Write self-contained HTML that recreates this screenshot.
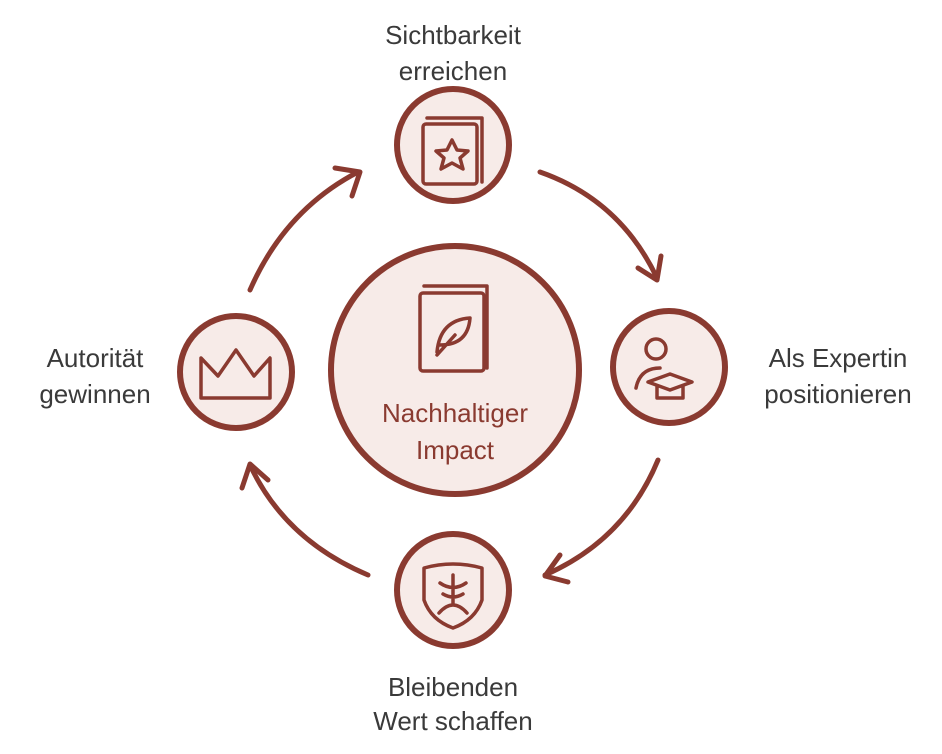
<!DOCTYPE html>
<html><head><meta charset="utf-8"><style>
body{margin:0;background:#fff;}
svg{display:block;}
text{font-family:"Liberation Sans",sans-serif;}
</style></head><body>
<svg width="942" height="754" viewBox="0 0 942 754" xmlns="http://www.w3.org/2000/svg">
<g fill="#f7ebe8" stroke="#8a3a30" stroke-width="6">
<circle cx="455" cy="370" r="124"/>
<circle cx="453" cy="145" r="56"/>
<circle cx="669" cy="367" r="56"/>
<circle cx="236" cy="372" r="56"/>
<circle cx="453" cy="590" r="56"/>
</g>
<g fill="none" stroke="#8a3a30" stroke-width="5" stroke-linecap="round" stroke-linejoin="round">
<path d="M250 290 Q285 210 358 172"/><path d="M335 168 L360 172 L352 196"/>
<path d="M540 172 Q620 200 657 278"/><path d="M638 268 L657 280 L661 256"/>
<path d="M658 460 Q625 540 545 575"/><path d="M560 555 L545 576 L568 582"/>
<path d="M368 575 Q285 540 250 465"/><path d="M242 488 L250 464 L268 480"/>
</g>
<g fill="none" stroke="#8a3a30" stroke-width="3.5" stroke-linecap="round" stroke-linejoin="round">
<rect x="423" y="124" width="54" height="60" rx="3"/><path d="M427 118 H482 V182"/>
<path d="M452 140 l5 10 11 1 -8 7 3 11 -11 -6 -11 6 3 -11 -8 -7 11 -1z"/>
<rect x="420" y="293" width="64" height="78" rx="3"/><path d="M424 286 H487 V368"/>
<path d="M437 352 Q440 320 470 318 Q468 345 440 345 M437 355 L455 335"/>
<path d="M201 358 L218 376 L236 350 L254 376 L270 358 V398 H201 Z"/>
<circle cx="656" cy="349" r="10"/><path d="M636 388 Q640 368 660 368"/>
<path d="M648 382 L670 374 L692 382 L670 390 Z M657 386 V398 H683 V386"/>
<path d="M424 568 Q453 560 482 568 V600 Q475 620 453 628 Q431 620 424 600 Z"/>
<path d="M453 575 V603 M440 583 Q453 592 466 583 M443 594 Q453 600 463 594 M439 613 Q453 597 467 613"/>
</g>
<g font-size="26" fill="#3a3a3a" text-anchor="middle">
<text x="453" y="44">Sichtbarkeit</text><text x="453" y="80">erreichen</text>
<text x="838" y="367">Als Expertin</text><text x="838" y="403">positionieren</text>
<text x="95" y="367">Autorität</text><text x="95" y="403">gewinnen</text>
<text x="453" y="696">Bleibenden</text><text x="453" y="730">Wert schaffen</text>
</g>
<g font-size="26" fill="#8a3a30" text-anchor="middle">
<text x="455" y="422">Nachhaltiger</text><text x="455" y="459">Impact</text>
</g>
</svg>
</body></html>
